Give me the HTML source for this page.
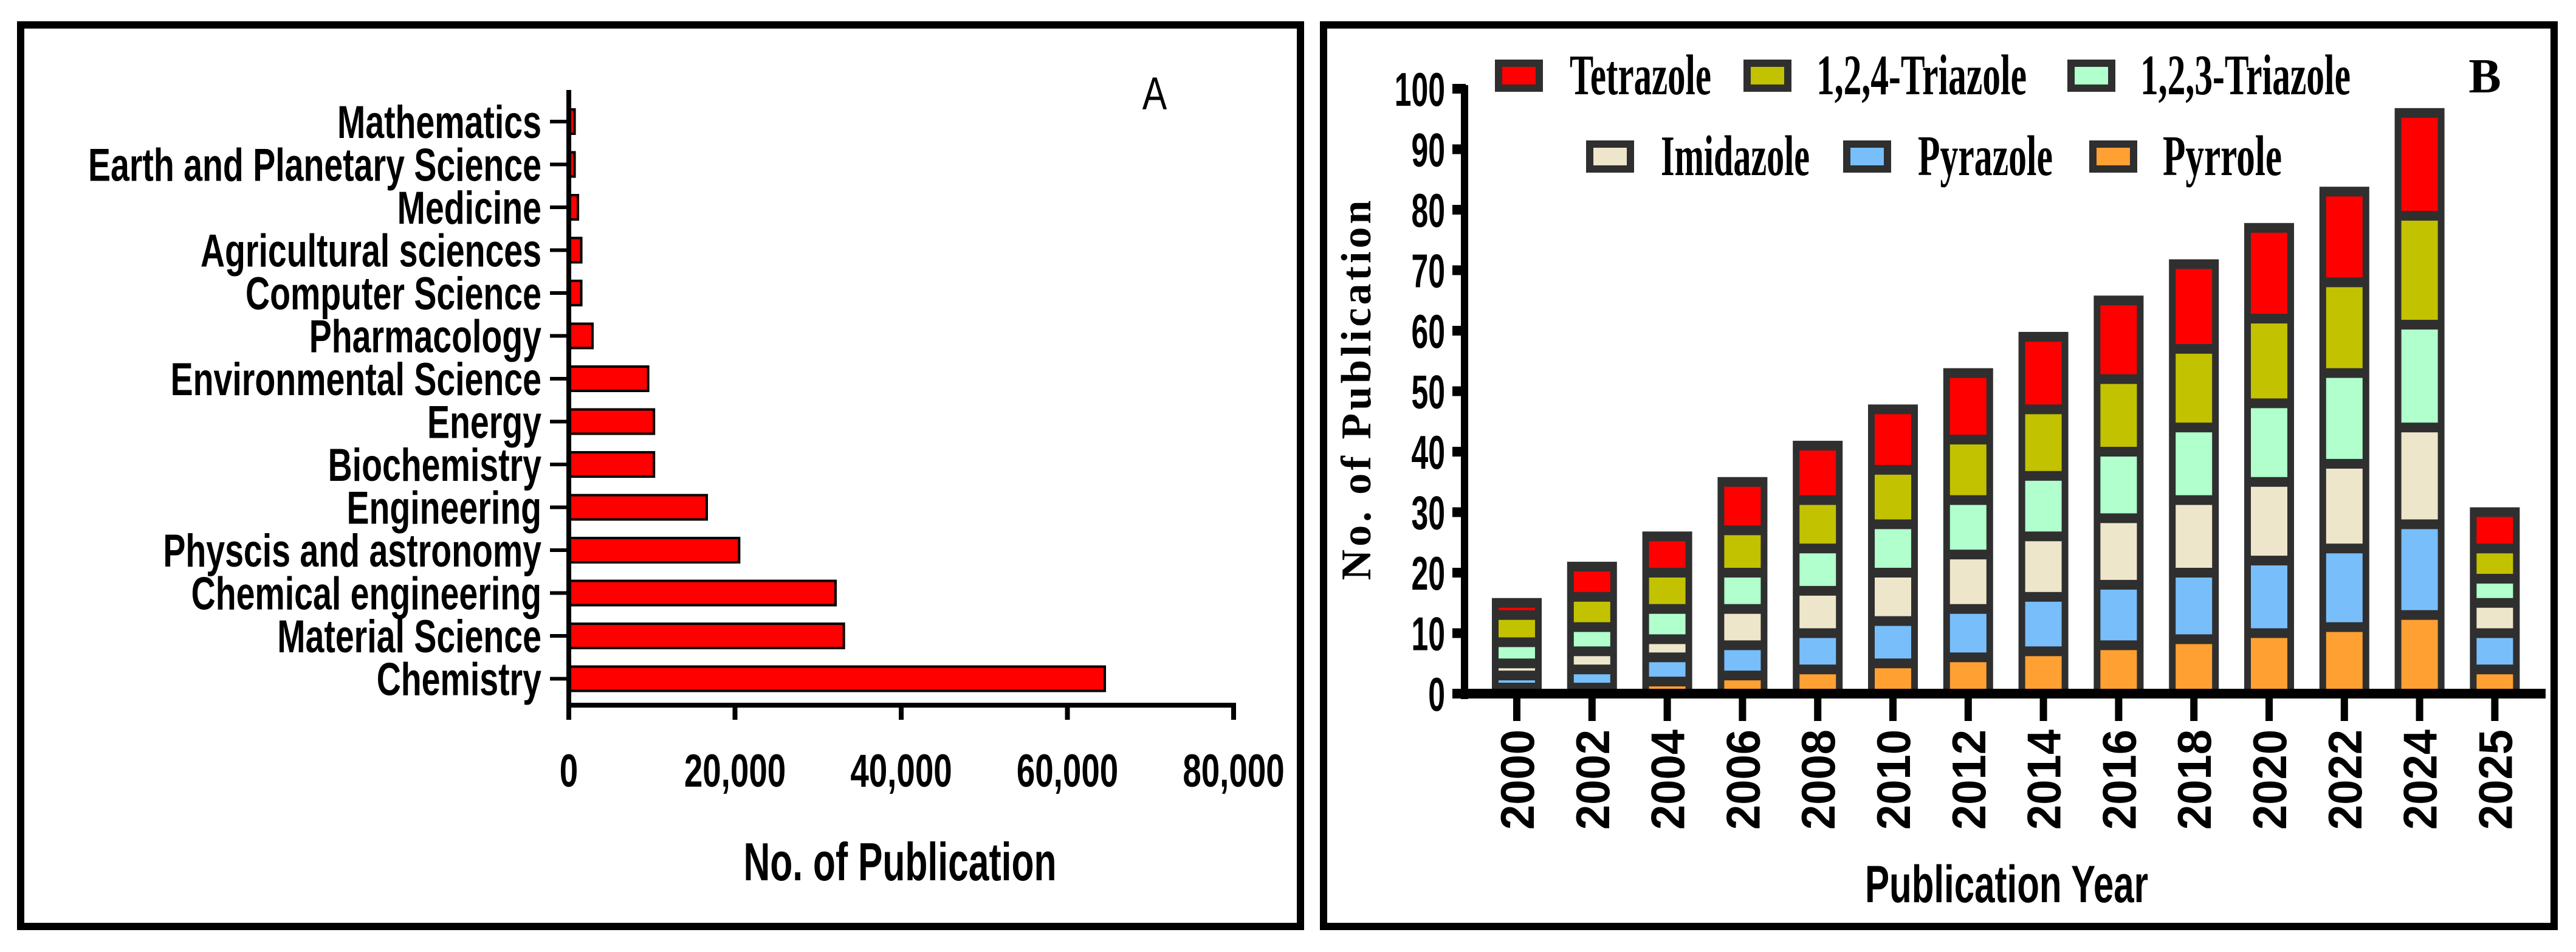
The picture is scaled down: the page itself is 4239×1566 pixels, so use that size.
<!DOCTYPE html>
<html><head><meta charset="utf-8"><style>
html,body{margin:0;padding:0;background:#fff;}
svg{display:block;}
</style></head><body>
<svg id="chart" width="4239" height="1566" viewBox="0 0 4239 1566" xmlns="http://www.w3.org/2000/svg">
<rect x="0" y="0" width="4239" height="1566" fill="#fff"/>
<rect x="34" y="41" width="2106" height="1483" fill="none" stroke="#000" stroke-width="12"/>
<rect x="2178" y="41" width="2025" height="1483" fill="none" stroke="#000" stroke-width="12"/>
<g id="pa"></g>
<g id="pb"></g>
<text x="1900" y="180" font-family="Liberation Sans, sans-serif" font-size="76" text-anchor="middle" transform="translate(1900,0) scale(0.8,1) translate(-1900,0)">A</text>
<text x="4089" y="152" font-family="Liberation Serif, serif" font-weight="bold" font-size="80" text-anchor="middle">B</text>
<text x="1481" y="1448" font-family="Liberation Sans, sans-serif" font-weight="bold" font-size="88" text-anchor="middle" textLength="515" lengthAdjust="spacingAndGlyphs">No. of Publication</text>
<text x="3302" y="1484" font-family="Liberation Sans, sans-serif" font-weight="bold" font-size="86" text-anchor="middle" textLength="466" lengthAdjust="spacingAndGlyphs">Publication Year</text>
<text x="0" y="0" font-family="Liberation Serif, serif" font-weight="bold" font-size="70" text-anchor="middle" textLength="625" lengthAdjust="spacing" transform="translate(2255,642) rotate(-90)">No. of Publication</text>
</svg>
<script>
// ---- Panel A data ----
const subjects = ["Mathematics","Earth and Planetary Science","Medicine","Agricultural sciences","Computer Science","Pharmacology","Environmental Science","Energy","Biochemistry","Engineering","Physcis and astronomy","Chemical engineering","Material Science","Chemistry"];
const subjectCounts = [700,700,1100,1500,1500,2850,9550,10250,10250,16600,20500,32100,33100,64500];
const xTicksA = [0,20000,40000,60000,80000];
const xTickLabelsA = ["0","20,000","40,000","60,000","80,000"];

// ---- Panel B data ----
const years = ["2000","2002","2004","2006","2008","2010","2012","2014","2016","2018","2020","2022","2024","2025"];
const pyrrole   = [1,1,2,3,4,5,6,7,8,9,10,11,13,4];
const pyrazole  = [2,3,4,5,6,7,8,9,10,11,12,13,15,6];
const imidazole = [2,3,3,6,7,8,9,10,11,12,13,14,16,5];
const triazole123 = [3.5,4,5,6,7,8,9,10,11,12,13,15,17,4];
const triazole124 = [4.5,5,6,7,8,9,10,11,12,13,14,15,18,5];
const tetrazole = [2,5,6,8,9,10,11,12,13,14,15,15,17,6];
const yTicksB = [0,10,20,30,40,50,60,70,80,90,100];
const seriesNames = ["Pyrrole","Pyrazole","Imidazole","1,2,3-Triazole","1,2,4-Triazole","Tetrazole"];

const NS = "http://www.w3.org/2000/svg";
function mk(parent, tag, attrs, txt){
  const e = document.createElementNS(NS, tag);
  for (const k in attrs) e.setAttribute(k, attrs[k]);
  if (txt !== undefined) e.textContent = txt;
  parent.appendChild(e);
  return e;
}

// ---------- Panel A ----------
const pa = document.getElementById('pa');
const ax0 = 936, ax1 = 2030, axMax = 80000, axisY = 1160;
const xA = v => ax0 + (v / axMax) * (ax1 - ax0);
const rowY0 = 200, rowStep = 70.5;
const yA = i => rowY0 + i * rowStep;

subjects.forEach((s, i) => {
  const bar = mk(pa, 'rect', {x: ax0, y: yA(i) - 20, width: xA(subjectCounts[i]) - ax0, height: 40, fill: '#ff0000', stroke: '#000', 'stroke-width': 4});
  
  
  const tk = mk(pa, 'line', {x1: 905, x2: ax0, y1: yA(i), y2: yA(i), stroke: '#000', 'stroke-width': 6});
  
  
  const lb = mk(pa, 'text', {x: 0, y: 0, 'font-family': 'Liberation Sans, sans-serif', 'font-weight': 'bold', 'font-size': 76, 'text-anchor': 'end', transform: 'translate(891,' + (yA(i) + 27) + ') scale(0.73,1)'}, s);
  
  
});
const yAxA = mk(pa, 'line', {x1: ax0, x2: ax0, y1: 148, y2: axisY + 4, stroke: '#000', 'stroke-width': 8});


const xAxA = mk(pa, 'line', {x1: ax0 - 4, x2: ax1 + 4, y1: axisY, y2: axisY, stroke: '#000', 'stroke-width': 8});


xTicksA.forEach((t, i) => {
  const tk = mk(pa, 'line', {x1: xA(t), x2: xA(t), y1: axisY, y2: axisY + 24, stroke: '#000', 'stroke-width': 8});
  
  
  const tl = mk(pa, 'text', {x: 0, y: 0, 'font-family': 'Liberation Sans, sans-serif', 'font-weight': 'bold', 'font-size': 76, 'text-anchor': 'middle', transform: 'translate(' + xA(t) + ',1294) scale(0.72,1)'}, xTickLabelsA[i]);
  
  
});

// ---------- Panel B ----------
const pb = document.getElementById('pb');
const by0 = 1141, unitPx = 9.95, byAxisX = 2410;
const yB = v => by0 - v * unitPx;
const bx0 = 2496, bStep = 123.8;
const xB = i => bx0 + i * bStep;
const colors = ['#ffa033', '#78befa', '#eee6ca', '#b0ffcc', '#c2c200', '#ff0000'];
const dark = '#2f2f2f';
const stacks = [pyrrole, pyrazole, imidazole, triazole123, triazole124, tetrazole];

years.forEach((yr, i) => {
  const cx = xB(i);
  let total = 0;
  stacks.forEach(s => total += s[i]);
  const outer = mk(pb, 'rect', {x: cx - 41, y: yB(total) - 8, width: 82, height: by0 - yB(total) + 8, fill: dark});
  
  
  let base = 0;
  stacks.forEach((s, k) => {
    const lo = base, hi = base + s[i];
    base = hi;
    const yTop = yB(hi) + 8, yBot = (k === 0 ? by0 : yB(lo) - 8);
    if (yBot - yTop > 0) {
      const seg = mk(pb, 'rect', {x: cx - 30, y: yTop, width: 60, height: yBot - yTop, fill: colors[k]});
      
      
    }
  });
  const tk = mk(pb, 'rect', {x: cx - 6, y: 1148, width: 12, height: 38, fill: '#000'});
  
  
  const tl = mk(pb, 'text', {x: 0, y: 0, 'font-family': 'Liberation Sans, sans-serif', 'font-weight': 'bold', 'font-size': 78, 'text-anchor': 'end', textLength: 165, lengthAdjust: 'spacingAndGlyphs', transform: 'translate(' + (cx + 28) + ',1200) rotate(-90)'}, yr);
  
  
});
const yAxB = mk(pb, 'rect', {x: byAxisX - 6, y: 140, width: 12, height: 1010, fill: '#000'});


const xAxB = mk(pb, 'rect', {x: byAxisX - 6, y: 1133, width: 4195 - byAxisX, height: 16, fill: '#000'});


yTicksB.forEach(t => {
  const tk = mk(pb, 'rect', {x: 2390, y: yB(t) - 8, width: 22, height: 16, fill: '#000'});
  
  
  const tl = mk(pb, 'text', {x: 0, y: 0, 'font-family': 'Liberation Sans, sans-serif', 'font-weight': 'bold', 'font-size': 78, 'text-anchor': 'end', transform: 'translate(2378,' + (yB(t) + 28) + ') scale(0.64,1)'}, String(t));
  
  
});

// legend
const legendItems = [
  {k: 5, sx: 2460, sy: 125, tx: 2583, tw: 233},
  {k: 4, sx: 2869, sy: 125, tx: 2989, tw: 346},
  {k: 3, sx: 3402, sy: 125, tx: 3522, tw: 346},
  {k: 2, sx: 2610, sy: 258, tx: 2733, tw: 245},
  {k: 1, sx: 3033, sy: 258, tx: 3156, tw: 222},
  {k: 0, sx: 3438, sy: 258, tx: 3559, tw: 196}
];
legendItems.forEach(it => {
  const g = mk(pb, 'g', {});
  
  
  mk(g, 'rect', {x: it.sx, y: it.sy - 27, width: 79, height: 53, fill: dark});
  mk(g, 'rect', {x: it.sx + 12, y: it.sy - 15, width: 55, height: 29, fill: colors[it.k]});
  mk(g, 'text', {x: it.tx, y: it.sy + 30, 'font-family': 'Liberation Serif, serif', 'font-weight': 'bold', 'font-size': 94, textLength: it.tw, lengthAdjust: 'spacingAndGlyphs'}, seriesNames[it.k]);
});
</script>
</body></html>
